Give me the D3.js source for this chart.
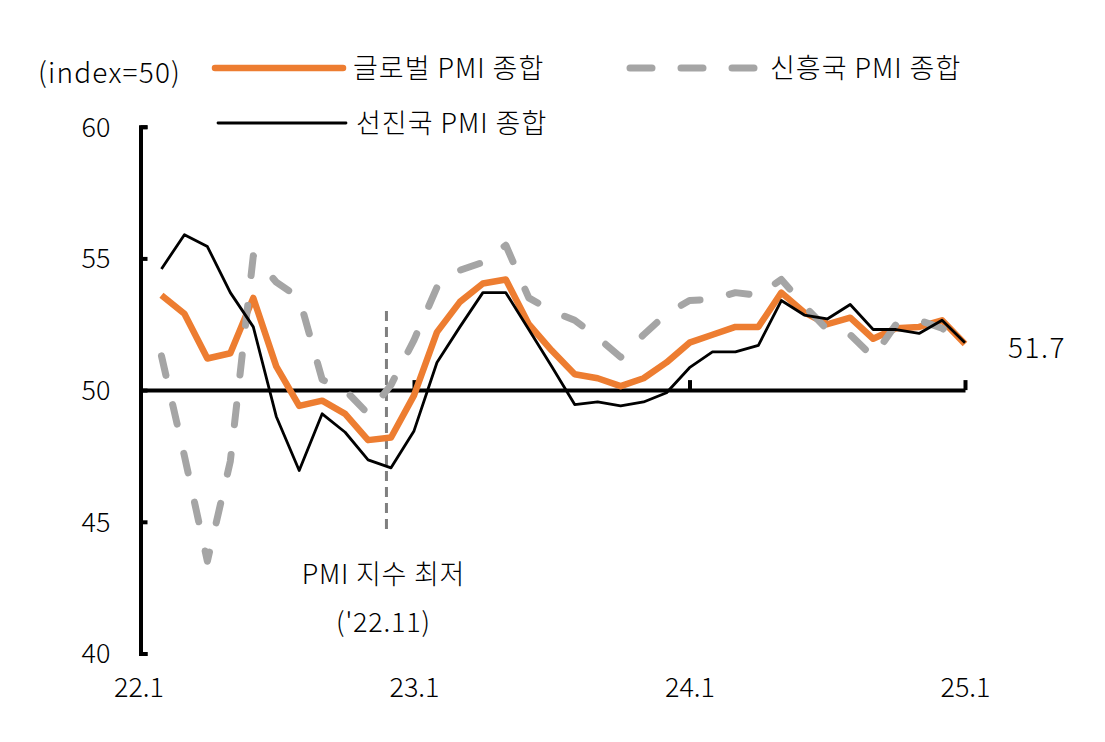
<!DOCTYPE html>
<html>
<head>
<meta charset="utf-8">
<script src="https://cdn.jsdelivr.net/npm/d3@7"></script>
<style>
	body { margin: 0; background: #fff; }
	text { font-family: "Noto Sans CJK KR", "Noto Sans", sans-serif; font-weight: 300; fill: #000; }
	.axis text { font-family: "Noto Sans CJK KR", "Noto Sans", sans-serif; font-weight: 300; font-size: 27px; fill: #000; }
	.axis path, .axis line { stroke: #000; stroke-width: 4; }
</style>
</head>
<body>
<script>
var months = ['22.2', '22.3', '22.4', '22.5', '22.6', '22.7', '22.8', '22.9', '22.10', '22.11', '22.12',
	'23.1', '23.2', '23.3', '23.4', '23.5', '23.6', '23.7', '23.8', '23.9', '23.10', '23.11', '23.12',
	'24.1', '24.2', '24.3', '24.4', '24.5', '24.6', '24.7', '24.8', '24.9', '24.10', '24.11', '24.12',
	'25.1'];
var xTickLabels = ['22.1', '23.1', '24.1', '25.1'];
var yTicks = [40, 45, 50, 55, 60];
var globalPmi = [53.6, 52.9, 51.2, 51.4, 53.5, 50.9, 49.4, 49.6, 49.1, 48.1, 48.2,
	49.8, 52.2, 53.35, 54.05, 54.2, 52.5, 51.5, 50.6, 50.45, 50.15, 50.45, 51.05,
	51.8, 52.1, 52.4, 52.4, 53.7, 52.95, 52.5, 52.75, 51.95, 52.35, 52.4, 52.65,
	51.75];
var emergingPmi = [51.3, 47.5, 43.5, 47.3, 55.1, 54.1, 53.5, 50.4, 50.0, 49.1, 50.2,
	51.9, 53.9, 54.55, 54.85, 55.5, 53.5, 53.0, 52.65, 52.0, 51.25, 52.1, 52.9,
	53.4, 53.45, 53.7, 53.6, 54.2, 53.2, 52.3, 52.1, 51.25, 52.5, 52.65, 52.35,
	51.8];
var advancedPmi = [54.6, 55.9, 55.45, 53.7, 52.4, 49.0, 46.95, 49.1, 48.4, 47.35, 47.05,
	48.45, 51.05, 52.4, 53.7, 53.7, 52.3, 50.9, 49.45, 49.55, 49.4, 49.55, 49.9,
	50.85, 51.45, 51.45, 51.7, 53.4, 52.85, 52.7, 53.25, 52.3, 52.3, 52.15, 52.65,
	51.8];
var lowMonth = '22.11';
var lastLabel = '51.7';

var series = [
	{ name: '글로벌 PMI 종합', values: globalPmi, color: '#ED7D31', width: 6.5, dash: null },
	{ name: '신흥국 PMI 종합', values: emergingPmi, color: '#A5A5A5', width: 7, dash: '20 30' },
	{ name: '선진국 PMI 종합', values: advancedPmi, color: '#000000', width: 2.8, dash: null }
];

var svg = d3.select('body').append('svg').attr('width', 1105).attr('height', 742);

var x = d3.scalePoint().domain(['22.1'].concat(months)).range([138.5, 965]);
var y = d3.scaleLinear().domain([40, 60]).range([653.5, 126.7]);

// y axis, ticks pointing inside
svg.append('g').attr('class', 'axis').attr('transform', 'translate(140.5, 0)')
	.call(d3.axisLeft(y).tickValues(yTicks).tickSize(-7).tickPadding(30))
	.call(g => g.selectAll('text').attr('dy', '0.35em'));

// x axis drawn along the 50 line
svg.append('g').attr('class', 'axis').attr('transform', 'translate(0,' + y(50) + ')')
	.call(d3.axisBottom(x).tickValues(xTickLabels.slice(1)).tickSize(-10).tickSizeOuter(0).tickFormat(''));

// x labels at the bottom
svg.append('g').attr('class', 'axis').attr('transform', 'translate(0, 678)')
	.call(d3.axisBottom(x).tickValues(xTickLabels).tickSize(0).tickPadding(0))
	.call(g => g.select('.domain').remove())
	.call(g => g.selectAll('text').attr('dy', '0.71em'));

// low point marker
var xLow = x(lowMonth) + x.step() * 0.8;
svg.append('line').attr('x1', xLow).attr('x2', xLow).attr('y1', y(53.0)).attr('y2', y(44.7))
	.attr('stroke', '#7F7F7F').attr('stroke-width', 3).attr('stroke-dasharray', '10 6');
svg.append('text').attr('x', xLow - 3).attr('y', 572).attr('text-anchor', 'middle').attr('dominant-baseline', 'central')
	.style('font-size', '27px').style('letter-spacing', '0.8px').text('PMI 지수 최저');
svg.append('text').attr('x', xLow - 3).attr('y', 620).attr('text-anchor', 'middle').attr('dominant-baseline', 'central')
	.style('font-size', '27px').style('letter-spacing', '0.8px').text("('" + lowMonth + ')');

var line = d3.line().x((d, i) => x(months[i])).y(d => y(d));

svg.selectAll('path.series').data(series).enter().append('path')
	.attr('class', 'series')
	.attr('d', d => line(d.values))
	.attr('fill', 'none')
	.attr('stroke', d => d.color)
	.attr('stroke-width', d => d.width)
	.attr('stroke-linejoin', 'round')
	.attr('stroke-linecap', d => d.dash ? 'round' : 'butt')
	.attr('stroke-dasharray', d => d.dash);

// last value label
svg.append('text').attr('x', 1008).attr('y', 346).attr('dominant-baseline', 'central')
	.style('font-size', '28px').style('letter-spacing', '1.5px').text(lastLabel);

// legend
var legendPos = [[215, 68], [630, 68], [218, 123]];
var legend = svg.selectAll('g.legend').data(series).enter().append('g')
	.attr('class', 'legend')
	.attr('transform', (d, i) => 'translate(' + legendPos[i][0] + ',' + legendPos[i][1] + ')');
legend.append('line').attr('x1', 0).attr('x2', 128).attr('y1', 0).attr('y2', 0)
	.attr('stroke', d => d.color)
	.attr('stroke-width', d => d.width)
	.attr('stroke-linecap', 'round')
	.attr('stroke-dasharray', d => d.dash ? '22 29' : null);
legend.append('text').attr('x', (d, i) => i == 1 ? 140 : 138).attr('y', -2).attr('dominant-baseline', 'central')
	.style('font-size', '27px').style('letter-spacing', '1px').text(d => d.name);

svg.append('text').attr('x', 38).attr('y', 71).attr('dominant-baseline', 'central')
	.style('font-size', '28px').style('letter-spacing', '1.2px').text('(index=50)');
</script>
</body>
</html>
